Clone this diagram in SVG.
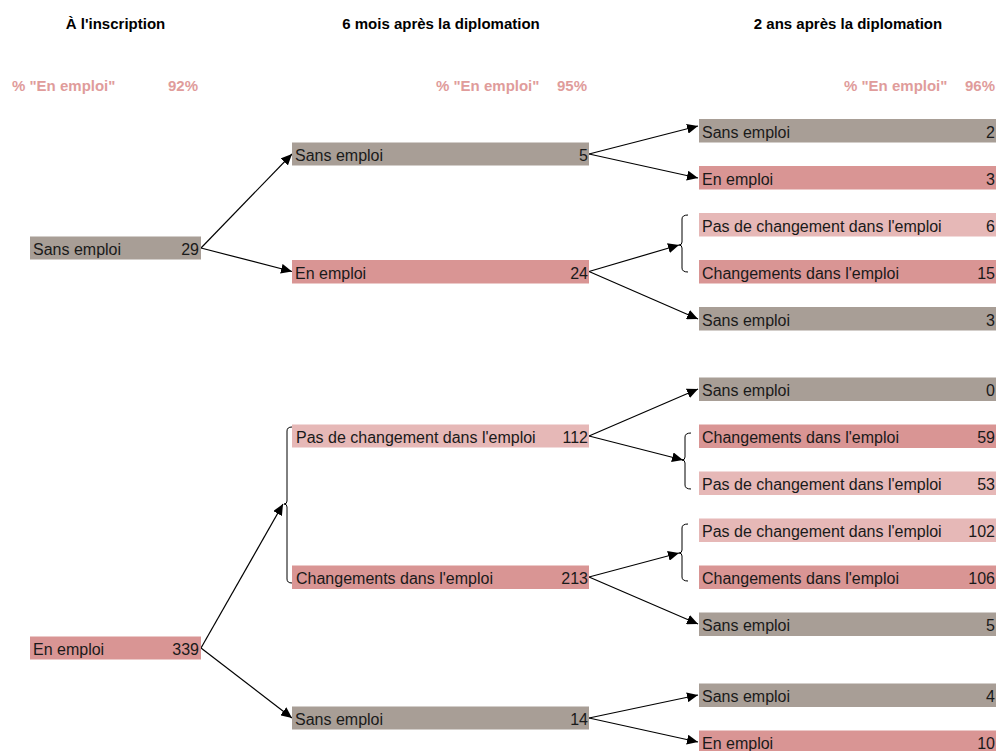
<svg xmlns="http://www.w3.org/2000/svg" width="996" height="751" viewBox="0 0 996 751">
<defs>
<marker id="ah" markerUnits="userSpaceOnUse" markerWidth="12" markerHeight="10" refX="11" refY="5" orient="auto">
<path d="M0,0 L11,5 L0,10 z" fill="#000"/>
</marker>
<style>
.hd{font-family:"Liberation Sans",Arial,sans-serif;font-weight:bold;font-size:15px;fill:#000;text-anchor:middle}
.pc{font-family:"Liberation Sans",Arial,sans-serif;font-weight:bold;font-size:15px;fill:#E09C9B}
.t{font-family:"Liberation Sans",Arial,sans-serif;font-size:16px;fill:#1a1a1a}
.n{font-family:"Liberation Sans",Arial,sans-serif;font-size:16px;fill:#1a1a1a;text-anchor:end}
.g{fill:#A89E96}
.r{fill:#D99594}
.p{fill:#E6B8B7}
.c{fill:none;stroke:#000;stroke-width:1.2}
.b{fill:none;stroke:#000;stroke-width:1}
</style>
</defs>
<rect width="996" height="751" fill="#fff"/>
<g id="headers">
<text class="hd" x="115.5" y="29">À l'inscription</text>
<text class="hd" x="441" y="29">6 mois après la diplomation</text>
<text class="hd" x="848" y="29">2 ans après la diplomation</text>
<text class="pc" x="12" y="91">% "En emploi"</text>
<text class="pc" x="198" y="91" text-anchor="end">92%</text>
<text class="pc" x="436" y="91">% "En emploi"</text>
<text class="pc" x="587" y="91" text-anchor="end">95%</text>
<text class="pc" x="844" y="91">% "En emploi"</text>
<text class="pc" x="995" y="91" text-anchor="end">96%</text>
</g>
<g id="connectors">
<line class="c" x1="201" y1="248" x2="292" y2="154" marker-end="url(#ah)"/>
<line class="c" x1="201" y1="248" x2="292" y2="271.5" marker-end="url(#ah)"/>
<line class="c" x1="201" y1="648" x2="283" y2="504" marker-end="url(#ah)"/>
<line class="c" x1="201" y1="648" x2="292" y2="718" marker-end="url(#ah)"/>
<line class="c" x1="589" y1="154" x2="698" y2="126" marker-end="url(#ah)"/>
<line class="c" x1="589" y1="154" x2="698" y2="178" marker-end="url(#ah)"/>
<line class="c" x1="589" y1="271.5" x2="679" y2="245" marker-end="url(#ah)"/>
<line class="c" x1="589" y1="271.5" x2="698" y2="319" marker-end="url(#ah)"/>
<line class="c" x1="589" y1="436" x2="698" y2="389" marker-end="url(#ah)"/>
<line class="c" x1="589" y1="436" x2="683" y2="460" marker-end="url(#ah)"/>
<line class="c" x1="589" y1="577" x2="679" y2="553" marker-end="url(#ah)"/>
<line class="c" x1="589" y1="577" x2="698" y2="624" marker-end="url(#ah)"/>
<line class="c" x1="589" y1="718" x2="698" y2="695" marker-end="url(#ah)"/>
<line class="c" x1="589" y1="718" x2="698" y2="742" marker-end="url(#ah)"/>
<path class="b" d="M292,427 Q287,427 287,431 L287,501 Q287,504 284,504 Q287,504 287,507 L287,579 Q287,583 292,583"/>
<path class="b" d="M688,215 Q682,215 682,219 L682,242 Q682,245 679,245 Q682,245 682,248 L682,268 Q682,272 688,272"/>
<path class="b" d="M691,433 Q685,433 685,437 L685,457 Q685,460 682,460 Q685,460 685,463 L685,485 Q685,489 691,489"/>
<path class="b" d="M688,524 Q682,524 682,528 L682,550 Q682,553 679,553 Q682,553 682,556 L682,577 Q682,581 688,581"/>
</g>
<g id="n-c1-sans"><rect class="g" x="30" y="236.5" width="171" height="23"/><text class="t" x="33" y="255">Sans emploi</text><text class="n" x="199" y="255">29</text></g>
<g id="n-c1-en"><rect class="r" x="30" y="636.5" width="171" height="23"/><text class="t" x="33" y="655">En emploi</text><text class="n" x="199" y="655">339</text></g>
<g id="n-c2-sans5"><rect class="g" x="292" y="142.5" width="297" height="23"/><text class="t" x="295" y="161">Sans emploi</text><text class="n" x="588" y="161">5</text></g>
<g id="n-c2-en24"><rect class="r" x="292" y="260" width="297" height="23.5"/><text class="t" x="295" y="278.5">En emploi</text><text class="n" x="588" y="278.5">24</text></g>
<g id="n-c2-pas112"><rect class="p" x="292" y="424.5" width="297" height="23"/><text class="t" x="296" y="443">Pas de changement dans l'emploi</text><text class="n" x="588" y="443">112</text></g>
<g id="n-c2-chg213"><rect class="r" x="292" y="565.5" width="297" height="23.5"/><text class="t" x="296" y="584">Changements dans l'emploi</text><text class="n" x="588" y="584">213</text></g>
<g id="n-c2-sans14"><rect class="g" x="292" y="706.5" width="297" height="23"/><text class="t" x="295" y="725">Sans emploi</text><text class="n" x="588" y="725">14</text></g>
<g id="n-c3-1"><rect class="g" x="699" y="119" width="297" height="23.5"/><text class="t" x="702" y="137.5">Sans emploi</text><text class="n" x="995" y="137.5">2</text></g>
<g id="n-c3-2"><rect class="r" x="699" y="166" width="297" height="23.5"/><text class="t" x="702" y="184.5">En emploi</text><text class="n" x="995" y="184.5">3</text></g>
<g id="n-c3-3"><rect class="p" x="699" y="213" width="297" height="23.5"/><text class="t" x="702" y="231.5">Pas de changement dans l'emploi</text><text class="n" x="995" y="231.5">6</text></g>
<g id="n-c3-4"><rect class="r" x="699" y="260" width="297" height="23.5"/><text class="t" x="702" y="278.5">Changements dans l'emploi</text><text class="n" x="995" y="278.5">15</text></g>
<g id="n-c3-5"><rect class="g" x="699" y="307" width="297" height="23.5"/><text class="t" x="702" y="325.5">Sans emploi</text><text class="n" x="995" y="325.5">3</text></g>
<g id="n-c3-6"><rect class="g" x="699" y="377.5" width="297" height="23.5"/><text class="t" x="702" y="396">Sans emploi</text><text class="n" x="995" y="396">0</text></g>
<g id="n-c3-7"><rect class="r" x="699" y="424.5" width="297" height="23.5"/><text class="t" x="702" y="443">Changements dans l'emploi</text><text class="n" x="995" y="443">59</text></g>
<g id="n-c3-8"><rect class="p" x="699" y="471.5" width="297" height="23.5"/><text class="t" x="702" y="490">Pas de changement dans l'emploi</text><text class="n" x="995" y="490">53</text></g>
<g id="n-c3-9"><rect class="p" x="699" y="518.5" width="297" height="23.5"/><text class="t" x="702" y="537">Pas de changement dans l'emploi</text><text class="n" x="995" y="537">102</text></g>
<g id="n-c3-10"><rect class="r" x="699" y="565.5" width="297" height="23.5"/><text class="t" x="702" y="584">Changements dans l'emploi</text><text class="n" x="995" y="584">106</text></g>
<g id="n-c3-11"><rect class="g" x="699" y="612.5" width="297" height="23.5"/><text class="t" x="702" y="631">Sans emploi</text><text class="n" x="995" y="631">5</text></g>
<g id="n-c3-12"><rect class="g" x="699" y="683.5" width="297" height="23.5"/><text class="t" x="702" y="702">Sans emploi</text><text class="n" x="995" y="702">4</text></g>
<g id="n-c3-13"><rect class="r" x="699" y="730.5" width="297" height="23.5"/><text class="t" x="702" y="749">En emploi</text><text class="n" x="995" y="749">10</text></g>
</svg>
